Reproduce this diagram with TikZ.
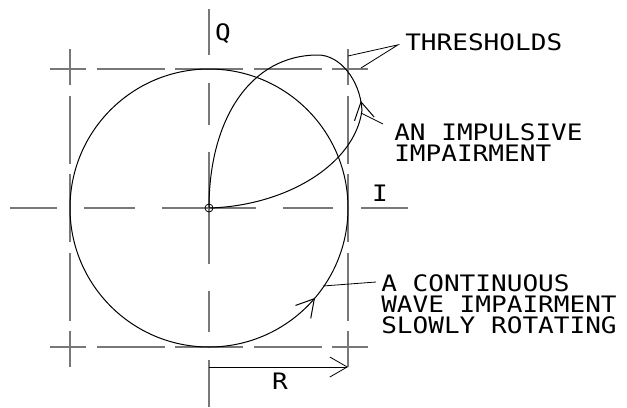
\documentclass[tikz,border=0pt]{standalone}
\usepackage{fontspec}
\newfontfamily\cadfont[FakeStretch=1.15]{DejaVu Sans Mono}
\usetikzlibrary{arrows.meta, decorations.markings}
\definecolor{cadgray}{RGB}{120,120,120}

\begin{document}
\begin{tikzpicture}[x=0.75pt, y=-0.75pt,
    >={Straight Barb[length=13pt, width=15pt]},
    thr/.style={draw=cadgray, line width=0.9pt,
      dash pattern=on 51pt off 7.875pt, dash phase=24pt},
    axis/.style={draw=cadgray, line width=0.9pt},
    curve/.style={draw=black, line width=0.75pt},
    lead/.style={draw=black, line width=0.6pt},
    lbl/.style={font=\cadfont\fontsize{17}{15.75}\selectfont,
      inner sep=0pt, align=left}]
    \useasboundingbox (0,0) rectangle (627,407);
    % thresholds
    \draw[thr] (50,69) -- (368,69);
    \draw[thr] (50,347) -- (368,347);
    \draw[thr] (70,49) -- (70,367);
    \draw[thr] (348,49) -- (348,367);
    % I and Q axes
    \foreach \a/\b in {10/57, 84/135, 162/256, 283/333, 361/408}
      \draw[axis] (\a,208) -- (\b,208);
    \foreach \a/\b in {9/55, 83/125, 152/264, 291/332, 360/407}
      \draw[axis] (209,\a) -- (209,\b);
    \node[draw, circle, minimum size=6pt, inner sep=0pt, line width=0.6pt](o) at (209,208){};
    % continuous wave
    \draw[curve, postaction={decorate}, decoration={markings,
      mark=at position 0.112 with {\arrowreversed{>}}}]
      (o.center) circle [radius=139];
    % impulse
    \draw[curve, postaction={decorate}, decoration={markings,
      mark=at position 0.425 with {\arrow{>}}}]
      (o.center) .. controls (285,206) and (355,165) .. (362,110)
      .. controls (360,80) and (340,55) .. (318,55)
      .. controls (250,55) and (209,120) .. (o.center);
    % labels
    \node[lbl](q) at (223,34){Q};
    \node[lbl](i) at (380,193){I};
    \node[lbl](r) at (280,381){R};
    \node[lbl, anchor=north west](thr) at (405,33){THRESHOLDS};
    \node[lbl, anchor=north west](imp) at (394,123){AN IMPULSIVE\\IMPAIRMENT};
    \node[lbl, anchor=north west](cw) at (381,274){A CONTINUOUS\\WAVE IMPAIRMENT\\SLOWLY ROTATING};
    \coordinate(tv) at (348,56);
    \coordinate(th) at (361,68);
    \coordinate(li) at (361,113);
    \coordinate(lc) at (323,286);
    \draw[lead](tv) -- ([shift={(-7,3)}]thr.west) -- (th);
    \draw[lead](li) -- ([shift={(-11,1)}]imp.north west);
    \draw[lead](lc) -- ([shift={(-5,8)}]cw.north west);
    % radius
    \coordinate(r0) at (209,367);
    \coordinate(r1) at (348,367);
    \draw[lead, ->](r0) -- (r1);
  \end{tikzpicture}
\end{document}
